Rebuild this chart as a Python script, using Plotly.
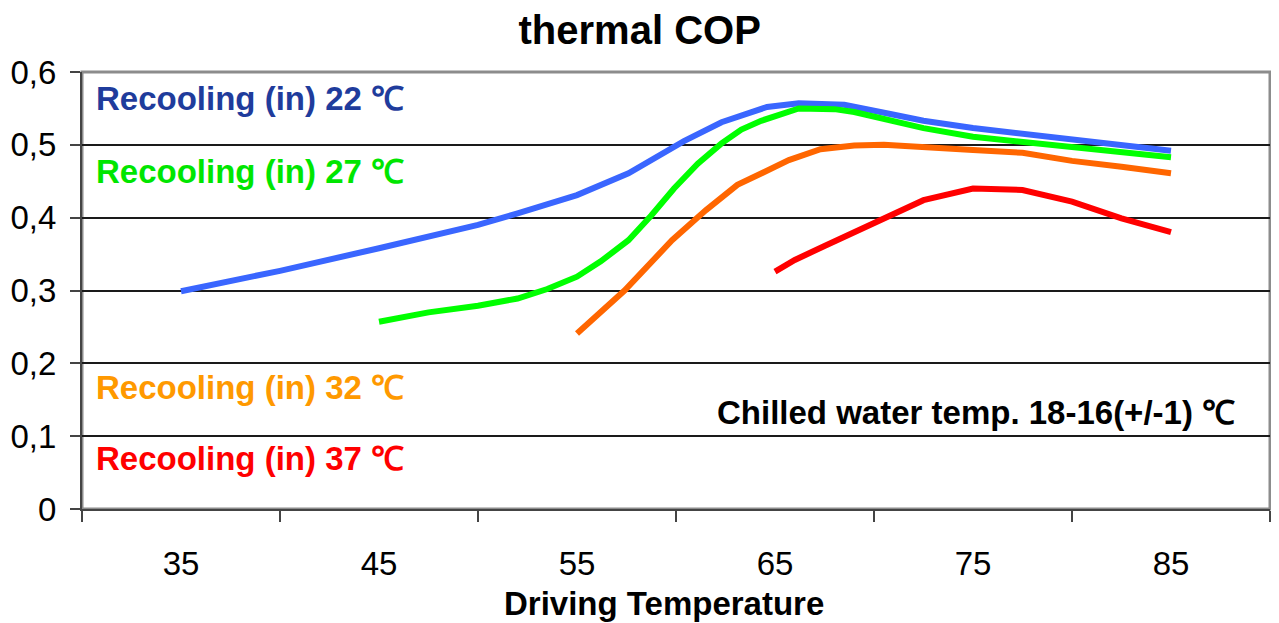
import plotly.graph_objects as go

# ---- data ----
x_22 = [35, 40, 45, 50, 52, 55, 57.6, 60.4, 62.3, 64.6, 66.2, 67.7, 68.5, 70.7, 72.5, 75, 77.5, 80, 82.5, 85]
y_22 = [0.299, 0.327, 0.358, 0.390, 0.406, 0.431, 0.461, 0.505, 0.531, 0.552, 0.557, 0.557, 0.555, 0.543, 0.533, 0.523, 0.515, 0.507, 0.499, 0.492]

x_27 = [45, 47.5, 50, 52, 53.5, 55, 56.2, 57.6, 58.75, 59.9, 61.1, 62.3, 63.3, 64.3, 66.2, 68, 69, 70.7, 72.5, 75, 77.5, 80, 82.5, 85]
y_27 = [0.257, 0.270, 0.279, 0.289, 0.302, 0.319, 0.340, 0.369, 0.403, 0.440, 0.474, 0.502, 0.521, 0.533, 0.550, 0.549, 0.545, 0.534, 0.523, 0.511, 0.504, 0.496, 0.488, 0.483]

x_32 = [55, 57.4, 59.8, 61.5, 63.1, 64.2, 65.7, 67.3, 69, 70.5, 72.5, 75, 77.5, 80, 82.5, 85]
y_32 = [0.241, 0.300, 0.369, 0.410, 0.445, 0.460, 0.479, 0.494, 0.499, 0.500, 0.496, 0.493, 0.489, 0.478, 0.470, 0.461]

x_37 = [65, 66, 67.5, 70, 72.5, 75, 76, 77.5, 80, 82.5, 85]
y_37 = [0.326, 0.342, 0.361, 0.392, 0.424, 0.440, 0.440, 0.438, 0.422, 0.399, 0.380]

x_tick_vals = [35, 45, 55, 65, 75, 85]
x_tick_text = ["35", "45", "55", "65", "75", "85"]
x_minor_ticks = [30, 40, 50, 60, 70, 80, 90]
y_tick_vals = [0, 0.1, 0.2, 0.3, 0.4, 0.5, 0.6]
y_tick_text = ["0", "0,1", "0,2", "0,3", "0,4", "0,5", "0,6"]

series = [
    ("Recooling (in) 22 ℃", x_22, y_22, "#3a66ff", "#1f3c9c", 0.564),
    ("Recooling (in) 27 ℃", x_27, y_27, "#00ff00", "#00e600", 0.464),
    ("Recooling (in) 32 ℃", x_32, y_32, "#ff6600", "#ff9900", 0.167),
    ("Recooling (in) 37 ℃", x_37, y_37, "#ff0000", "#ff0000", 0.069),
]

FONT = "Liberation Sans, Arial, sans-serif"

# the page body has an 8px margin, so the figure is sized to fit the window
W, H = 1271, 615

fig = go.Figure()
annotations = []
for name, xs, ys, lc, tc, ly in series:
    fig.add_trace(go.Scatter(x=xs, y=ys, mode="lines", name=name,
                             line=dict(color=lc, width=6), showlegend=False))
    annotations.append(dict(x=30.6, y=ly, xref="x", yref="y", text="<b>%s</b>" % name,
                            showarrow=False, xanchor="left", yanchor="middle",
                            font=dict(family=FONT, size=33, color=tc)))

annotations.append(dict(x=88.35, y=0.133, xref="x", yref="y",
                        text="<b>Chilled water temp. 18-16(+/-1) ℃</b>",
                        showarrow=False, xanchor="right", yanchor="middle",
                        font=dict(family=FONT, size=33, color="#000000")))

# x-axis title
annotations.append(dict(x=0.49, y=-0.217, xref="paper", yref="paper",
                        text="<b>Driving Temperature</b>", showarrow=False,
                        xanchor="center", yanchor="middle",
                        font=dict(family=FONT, size=33, color="#000000")))

fig.update_layout(
    width=W, height=H,
    margin=dict(l=74, r=9, t=64, b=114),
    paper_bgcolor="white", plot_bgcolor="white",
    font=dict(family=FONT, color="#000000"),
    title=dict(text="<b>thermal COP</b>", x=0.497, xanchor="center", y=1 - 22 / H,
               yanchor="middle", yref="container", font=dict(family=FONT, size=40, color="#000000")),
    annotations=annotations,
    shapes=[dict(type="rect", xref="paper", yref="paper", x0=0, y0=0, x1=1, y1=1,
                 line=dict(color="#8c8c8c", width=3), layer="below")],
)

fig.update_xaxes(
    range=[30, 90], tickmode="array", tickvals=x_tick_vals, ticktext=x_tick_text,
    ticks="", showgrid=False, zeroline=False, automargin=False,
    showline=True, linecolor="#444444", linewidth=2,
    tickfont=dict(family=FONT, size=33, color="#000000"),
    ticklabelstandoff=24,
    minor=dict(tickmode="array", tickvals=x_minor_ticks, ticks="outside", ticklen=11,
               tickwidth=2, tickcolor="#444444", showgrid=False),
)
fig.update_yaxes(
    range=[0, 0.6], tickmode="array", tickvals=y_tick_vals, ticktext=y_tick_text,
    ticks="outside", ticklen=10, tickwidth=2, tickcolor="#444444",
    showgrid=True, gridcolor="#1a1a1a", gridwidth=1.5, zeroline=False, automargin=False,
    showline=True, linecolor="#444444", linewidth=2,
    tickfont=dict(family=FONT, size=33, color="#000000"),
    ticklabelstandoff=7,
)

fig.write_html("out.html")
